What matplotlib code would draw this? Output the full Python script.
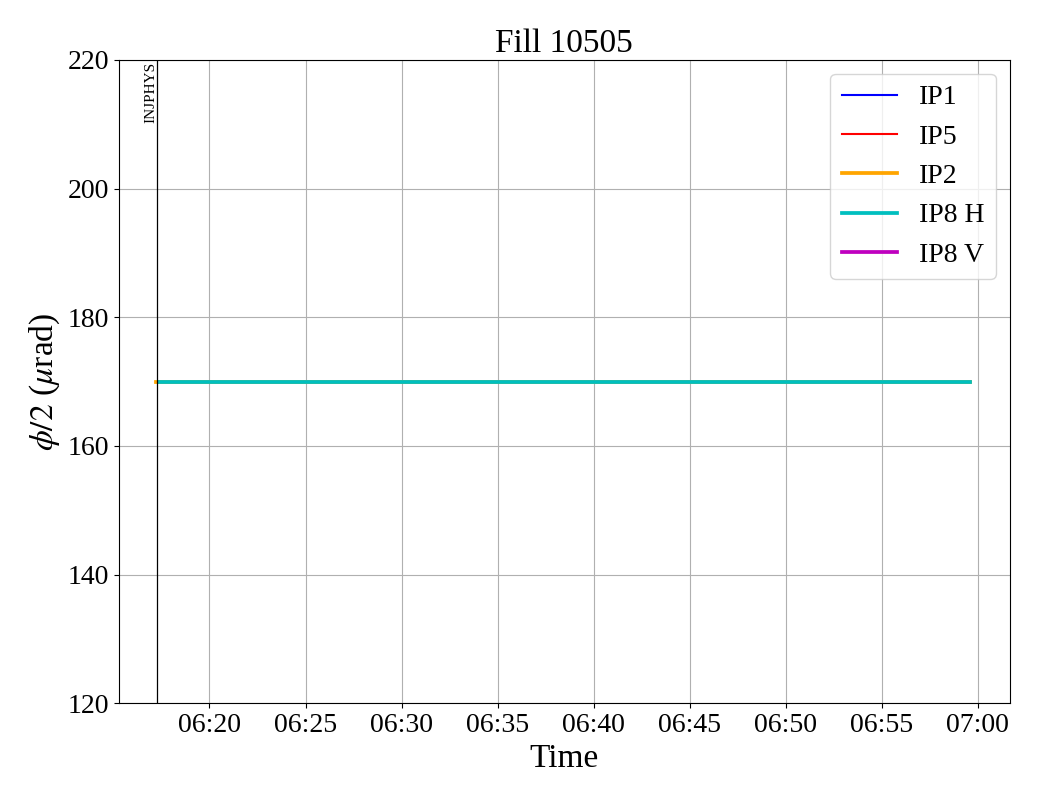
import matplotlib

matplotlib.use("Agg")

import matplotlib.pyplot as plt
import matplotlib.dates as mdates
import pandas as pd

plt.rcParams["font.family"] = ["Liberation Serif", "DejaVu Serif"]
plt.rcParams["mathtext.fontset"] = "stix"

day = "2025-04-28 "
mode_time = "06:17:17"
mode_name = "INJPHYS"
view_start = "06:15:16"
view_end = "07:01:40"

ip1_times = ["06:17:23", "06:30:00", "06:45:00", "06:59:36"]
ip1_values = [170, 170, 170, 170]
ip5_times = ["06:17:23", "06:30:00", "06:45:00", "06:59:36"]
ip5_values = [170, 170, 170, 170]
ip2_times = ["06:17:12", "06:30:00", "06:45:00", "06:59:36"]
ip2_values = [170, 170, 170, 170]
ip8h_times = ["06:17:23", "06:30:00", "06:45:00", "06:59:36"]
ip8h_values = [170, 170, 170, 170]
ip8v_times = []
ip8v_values = []


def ts(times):
    return pd.to_datetime([day + t for t in times])


fig = plt.figure(figsize=(10.4, 8), dpi=100)
ax = fig.add_axes([0.114, 0.121, 0.857, 0.804])

ax.plot(ts(ip1_times), ip1_values, color="blue", lw=1.5, label="IP1")
ax.plot(ts(ip5_times), ip5_values, color="red", lw=1.5, label="IP5")
ax.plot(ts(ip2_times), ip2_values, color="orange", lw=2.7, label="IP2")
ax.plot(ts(ip8h_times), ip8h_values, color="c", lw=2.7, label="IP8 H")
ax.plot(ts(ip8v_times), ip8v_values, color="m", lw=2.7, label="IP8 V")

mode_x = pd.Timestamp(day + mode_time)
ax.axvline(mode_x, color="black", lw=0.9)
ax.text(mode_x, 219.7, mode_name, rotation=90, ha="right", va="top", fontsize=11)

ax.set_xlim(pd.Timestamp(day + view_start), pd.Timestamp(day + view_end))
ax.set_ylim(120, 220)
ax.set_yticks([120, 140, 160, 180, 200, 220])
ax.xaxis.set_major_locator(mdates.MinuteLocator(byminute=range(0, 60, 5)))
ax.xaxis.set_major_formatter(mdates.DateFormatter("%H:%M"))
ax.tick_params(labelsize=20)
ax.grid(True, color="#b0b0b0", lw=0.8)

ax.set_title("Fill 10505", fontsize=24)
ax.set_xlabel("Time", fontsize=24)
ax.set_ylabel(r"$\phi/2$ ($\mu$rad)", fontsize=24)
ax.legend(loc="upper right", fontsize=20)

fig.savefig("out.png", facecolor="white")
